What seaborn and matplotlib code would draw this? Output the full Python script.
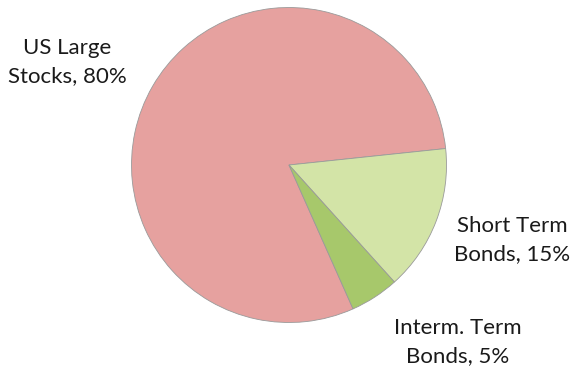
import matplotlib
matplotlib.use("Agg")
import matplotlib.pyplot as plt
import seaborn as sns

categories = ["US Large\nStocks", "Short Term\nBonds", "Interm. Term\nBonds"]
shares = [80, 15, 5]
colors = ["#E6A19F", "#D3E4A7", "#A7C86B"]

sns.set_theme(style="white")
plt.rcParams["font.family"] = ["Lato", "DejaVu Sans"]

fig = plt.figure(figsize=(5.8, 3.69), dpi=100)
ax = fig.add_axes([0, 0, 1, 1])

ax.pie(shares, colors=colors, startangle=294, counterclock=False, radius=1.0,
       wedgeprops=dict(edgecolor="#9a9a9a", linewidth=0.6))

# label anchors (data units, pie radius = 1)
label_pos = [(-1.41, 0.655), (1.415, -0.476), (1.073, -1.124)]
for name, val, (x, y) in zip(categories, shares, label_pos):
    ax.text(x, y, f"{name}, {val}%", ha="center", va="center",
            fontsize=16, color="#1a1a1a", linespacing=1.5)

ax.set_xlim(-289 / 157.5, (580 - 289) / 157.5)
ax.set_ylim(-(369 - 165) / 157.5, 165 / 157.5)
ax.set_aspect("auto")
ax.axis("off")

fig.savefig("out.png", dpi=100, facecolor="white")
